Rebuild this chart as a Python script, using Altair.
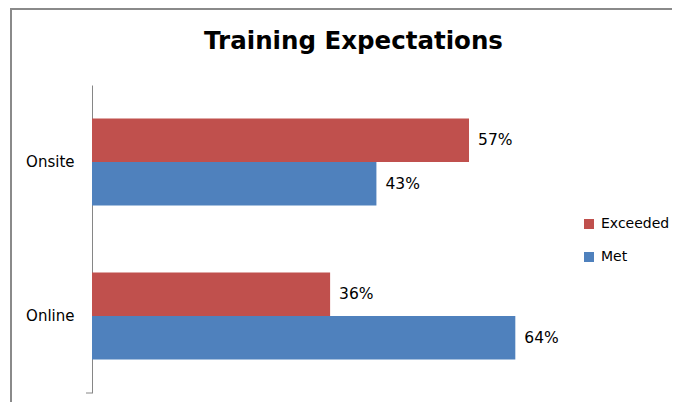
import altair as alt
import pandas as pd

categories = ["Onsite", "Online"]
series = ["Exceeded", "Met"]
exceeded = [0.57, 0.36]
met = [0.43, 0.64]
colors = ["#C0504D", "#4F81BD"]

rows = []
for i, c in enumerate(categories):
    rows.append({"Category": c, "Series": "Exceeded", "Value": exceeded[i]})
    rows.append({"Category": c, "Series": "Met", "Value": met[i]})
df = pd.DataFrame(rows)

FONT = "DejaVu Sans"

base = alt.Chart(df).encode(
    y=alt.Y(
        "Category:N",
        sort=categories,
        scale=alt.Scale(paddingInner=0.435, paddingOuter=0.2175),
        axis=alt.Axis(
            title=None, ticks=False, labelPadding=18, domainColor="#868686",
            labelFont=FONT, labelFontSize=15, labelColor="black",
        ),
    ),
    yOffset=alt.YOffset("Series:N", sort=series,
                        scale=alt.Scale(paddingInner=0, paddingOuter=0)),
    x=alt.X("Value:Q", scale=alt.Scale(domain=[0, 0.7]), axis=None),
)

bars = base.mark_bar().encode(
    color=alt.Color(
        "Series:N", sort=series,
        scale=alt.Scale(domain=series, range=colors),
        legend=alt.Legend(
            title=None, orient="none", legendX=490, legendY=132, padding=0,
            symbolType="square", symbolSize=100, symbolStrokeWidth=0,
            labelFont=FONT, labelFontSize=14, labelColor="black",
            labelOffset=5, rowPadding=19,
        ),
    )
)

labels = base.mark_text(
    align="left", baseline="middle", dx=9, font=FONT, fontSize=15.5, color="black"
).encode(text=alt.Text("Value:Q", format=".0%"))

border_df = pd.DataFrame({"k": [0]})
left_border = alt.Chart(border_df).mark_rule(color="#8a8a8a", strokeWidth=2).encode(
    x=alt.value(-81), y=alt.value(-76), y2=alt.value(320)
)
top_border = alt.Chart(border_df).mark_rule(color="#8a8a8a", strokeWidth=2).encode(
    x=alt.value(-82), x2=alt.value(590), y=alt.value(-76)
)
end_tick = alt.Chart(border_df).mark_rule(color="#868686", strokeWidth=1).encode(
    x=alt.value(-6), x2=alt.value(0), y=alt.value(308)
)

chart = alt.layer(bars, labels, left_border, top_border, end_tick).properties(
    width=463,
    height=308,
    padding={"left": 84, "top": 77, "right": 117, "bottom": 9},
    autosize=alt.AutoSizeParams(type="none"),
    title=alt.Title(
        "Training Expectations", font=FONT, fontSize=24.5, fontWeight="bold",
        color="black", anchor="middle", frame="group", dx=30,
        baseline="alphabetic", offset=-65,
    ),
).configure_view(stroke=None)

chart.save("out.html", embed_options={"renderer": "svg", "actions": False})
